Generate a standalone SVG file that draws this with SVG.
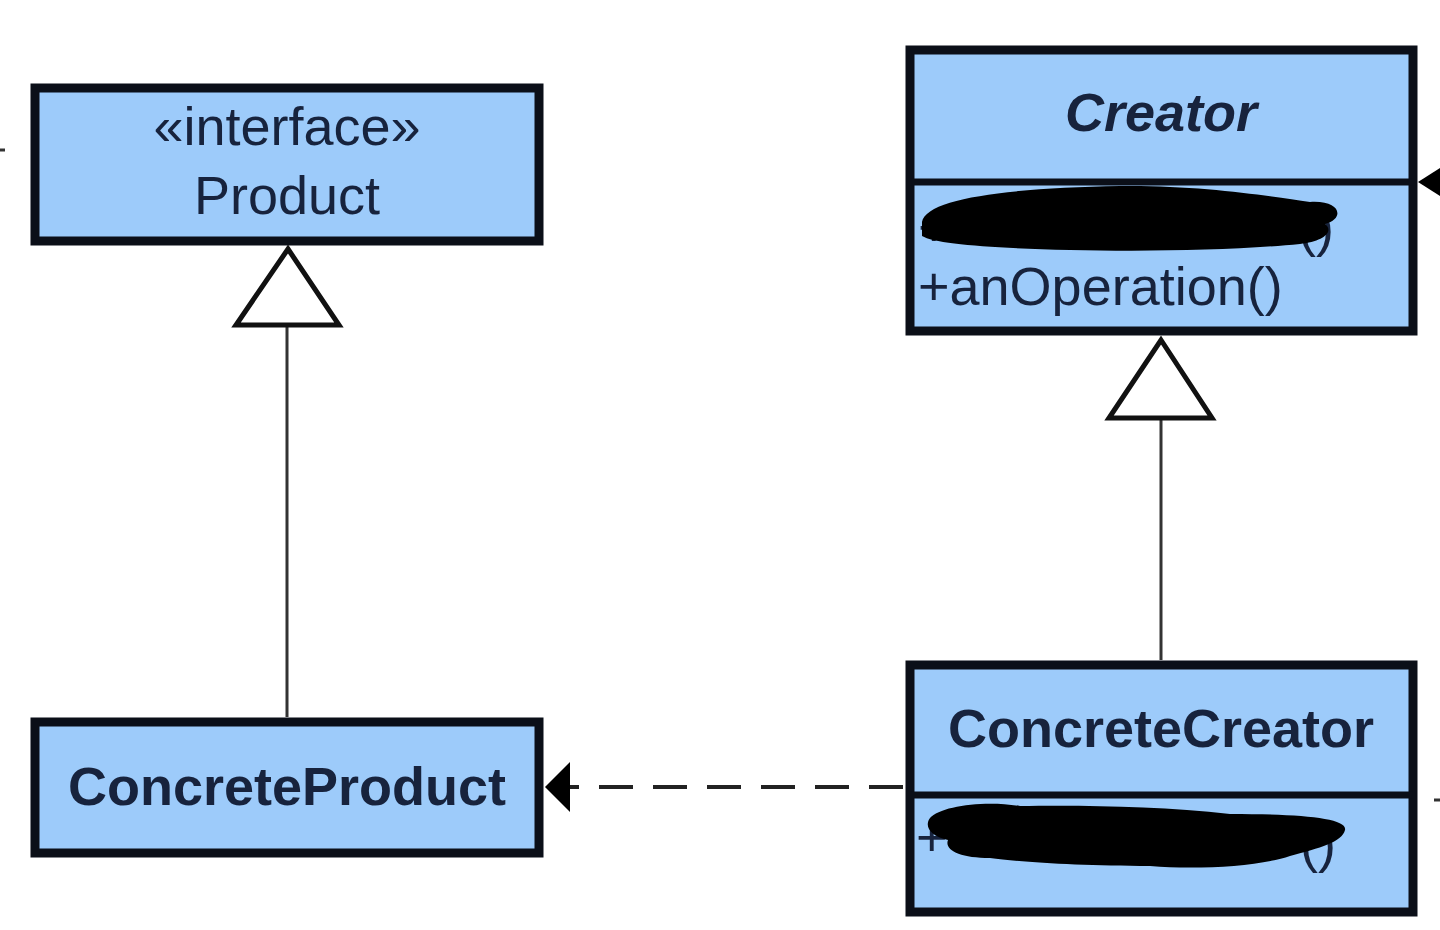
<svg xmlns="http://www.w3.org/2000/svg" width="1440" height="930" viewBox="0 0 1440 930">
<style>
.box{fill:#9dcbfa;stroke:#0b0f18;stroke-width:9}
.div{stroke:#0b0f18;stroke-width:7}
.t{font-family:"Liberation Sans",Arial,sans-serif;font-size:54px;fill:#17233d}
.b{font-weight:bold}
.i{font-style:italic}
.gen{fill:#fff;stroke:#111;stroke-width:5;stroke-linejoin:miter}
.ln{stroke:#333;stroke-width:3;fill:none}
.dash{stroke:#222;stroke-width:4;fill:none;stroke-dasharray:34 20}
.blob{fill:#000}
</style>
<defs>
<marker id="filled" viewBox="0 0 24 50" refX="0" refY="25" markerWidth="24" markerHeight="50" markerUnits="userSpaceOnUse" orient="auto-start-reverse">
<path d="M0 25 L24 0 L24 50 Z" fill="#000"/>
</marker>
</defs>
<rect width="1440" height="930" fill="#fff"/>
<g id="connectors">
<line class="ln" x1="287" y1="323" x2="287" y2="717"/>
<polygon class="gen" points="288,249 339,325 236,325"/>
<line class="ln" x1="1161" y1="416" x2="1161" y2="660"/>
<polygon class="gen" points="1161,340 1212,418 1109,418"/>
<line class="dash" x1="903" y1="787" x2="568" y2="787"/>
<path d="M545 787 L570 762 L570 812 Z" fill="#000"/>
<path d="M1418 182 L1440 168 L1440 196 Z" fill="#000"/>
<line class="ln" x1="0" y1="150" x2="5" y2="150"/>
<line class="ln" x1="1434" y1="800" x2="1440" y2="800"/>
</g>
<g id="product">
<rect class="box" x="35" y="88" width="504" height="153"/>
<text class="t" x="287" y="145" text-anchor="middle">«interface»</text>
<text class="t" x="287" y="214" text-anchor="middle">Product</text>
</g>
<g id="concreteproduct">
<rect class="box" x="35" y="722" width="504" height="131"/>
<text class="t b" x="287" y="805" text-anchor="middle">ConcreteProduct</text>
</g>
<g id="creator">
<rect class="box" x="910" y="50" width="503" height="281"/>
<line class="div" x1="910" y1="182" x2="1413" y2="182"/>
<text class="t b i" x="1161" y="131" text-anchor="middle">Creator</text>
<text class="t" x="918" y="246">+</text>
<text class="t" x="1298" y="246">()</text>
<path class="blob" d="M922 222 C926 198 1010 188 1120 186 C1200 185 1270 196 1310 202 C1340 200 1346 218 1325 224 C1335 232 1322 242 1300 244 C1240 250 1150 252 1070 250 C990 248 935 244 922 236 Z"/>
<text class="t" x="918" y="305">+anOperation()</text>
</g>
<g id="concretecreator">
<rect class="box" x="910" y="665" width="503" height="247"/>
<line class="div" x1="910" y1="795" x2="1413" y2="795"/>
<text class="t b" x="1161" y="747" text-anchor="middle">ConcreteCreator</text>
<text class="t" x="916" y="856">+</text>
<text class="t" x="1300" y="862">()</text>
<path class="blob" d="M930 818 C940 806 985 800 1020 806 C1080 805 1160 806 1230 814 C1300 814 1348 818 1345 830 C1342 842 1320 848 1290 856 C1260 866 1200 870 1150 866 C1080 866 1020 862 990 858 C960 858 944 850 948 840 C930 836 924 826 930 818 Z"/>
</g>
</svg>
